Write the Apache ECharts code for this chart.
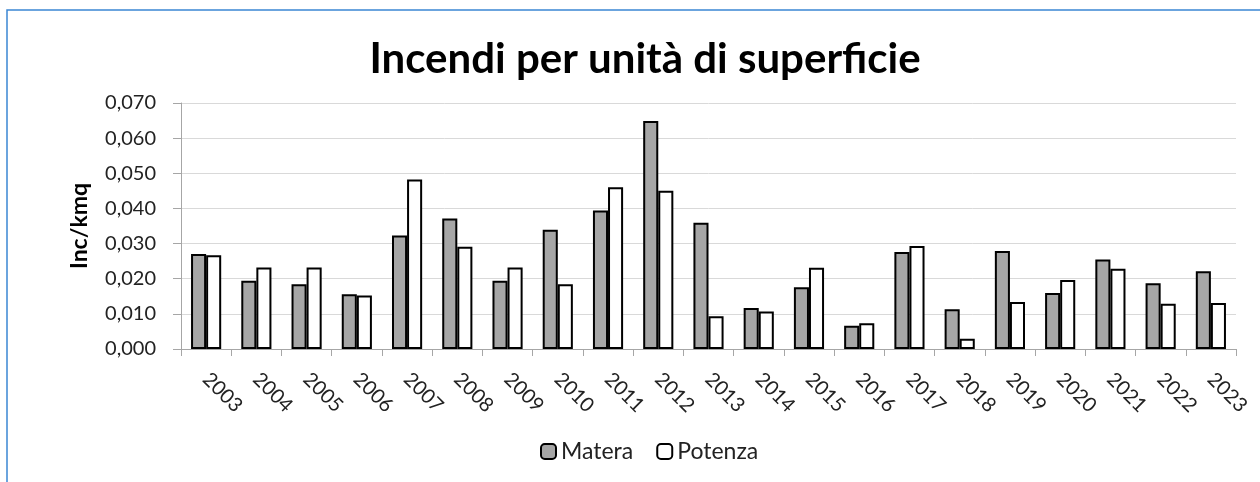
<!DOCTYPE html>
<html>
<head>
<meta charset="utf-8">
<script src="https://cdn.jsdelivr.net/npm/echarts@6/dist/echarts.min.js"></script>
<style>
html,body{margin:0;padding:0;background:#fff;}
#chart{width:1260px;height:482px;}
</style>
</head>
<body>
<div id="chart"></div>
<script>
// anni
var years = ['2003','2004','2005','2006','2007','2008','2009','2010','2011','2012','2013',
	'2014','2015','2016','2017','2018','2019','2020','2021','2022','2023'];
// incendi per kmq
var matera = [0.0270,0.0194,0.0184,0.0156,0.0323,0.0371,0.0194,0.0339,0.0394,0.0649,0.0359,
	0.0117,0.0176,0.0066,0.0276,0.0113,0.0279,0.0159,0.0255,0.0187,0.0221];
var potenza = [0.0267,0.0232,0.0232,0.0152,0.0482,0.0291,0.0232,0.0184,0.0460,0.0450,0.0093,
	0.0107,0.0231,0.0073,0.0293,0.0029,0.0134,0.0196,0.0228,0.0129,0.0131];
var seriesNames = ['Matera','Potenza'];

var font = 'Lato, "Open Sans", sans-serif';

var option = {
	animation : false,
	title : {
		text : 'Incendi per unità di superficie',
		left : 640,
		textAlign : 'center',
		top : 33,
		textStyle : { fontFamily : font, fontSize : 42, fontWeight : 'bold', color : '#000' }
	},
	legend : {
		data : seriesNames,
		bottom : 14,
		left : 535,
		itemWidth : 15,
		itemHeight : 15,
		itemGap : 23,
		textStyle : { fontFamily : font, fontSize : 23, color : '#222' }
	},
	graphic : [ {
		type : 'rect',
		shape : { x : 7, y : 10, width : 1300, height : 520 },
		style : { fill : 'none', stroke : '#3b86d4', lineWidth : 1.5 },
		silent : true
	} ],
	grid : { left : 181, right : 24, top : 103, bottom : 133 },
	xAxis : {
		type : 'category',
		data : years,
		axisLine : { lineStyle : { color : '#a6a6a6' } },
		axisTick : { show : true, length : 7, lineStyle : { color : '#a6a6a6' } },
		axisLabel : {
			rotate : -45,
			margin : 27,
			fontFamily : font,
			fontSize : 20,
			color : '#222'
		}
	},
	yAxis : {
		type : 'value',
		min : 0,
		max : 0.07,
		interval : 0.01,
		name : 'Inc/kmq',
		nameLocation : 'middle',
		nameGap : 90,
		nameTextStyle : { fontFamily : font, fontSize : 23, fontWeight : 'bold', color : '#000' },
		axisLine : { show : true, lineStyle : { color : '#a6a6a6' } },
		axisTick : { show : true, length : 8, lineStyle : { color : '#a6a6a6' } },
		splitLine : { lineStyle : { color : '#d9d9d9' } },
		axisLabel : {
			margin : 25,
			fontFamily : font,
			fontSize : 20,
			color : '#222',
			formatter : function(v) { return v.toFixed(3).replace('.', ','); }
		}
	},
	series : [ {
		name : seriesNames[0],
		type : 'bar',
		data : matera,
		barGap : '0%',
		barCategoryGap : '40%',
		itemStyle : { color : '#a6a6a6', borderColor : '#000', borderWidth : 2 }
	}, {
		name : seriesNames[1],
		type : 'bar',
		data : potenza,
		itemStyle : { color : '#fff', borderColor : '#000', borderWidth : 2 }
	} ]
};

var myChart = echarts.init(document.getElementById('chart'));
myChart.setOption(option);
</script>
</body>
</html>
